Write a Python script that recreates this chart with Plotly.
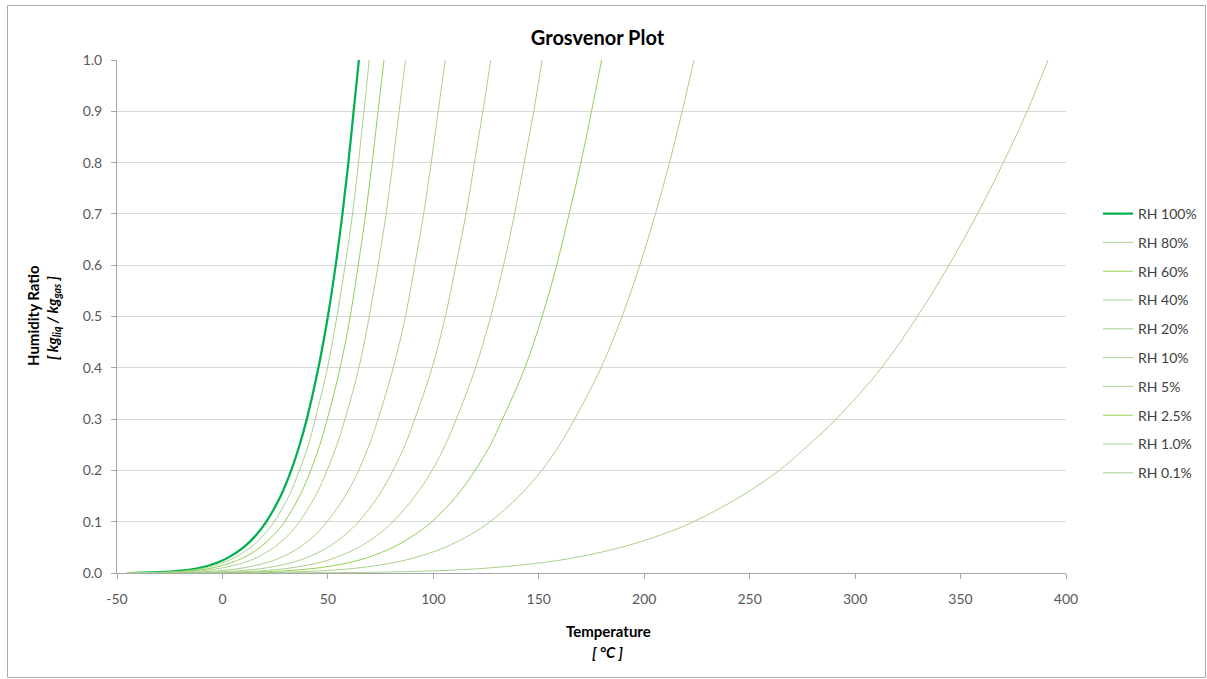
import plotly.graph_objects as go

# Humidity-ratio levels (kg_liq / kg_gas) at which each curve's temperature was read
humidity_levels = [0, 0.001, 0.002, 0.005, 0.01, 0.02, 0.03, 0.05, 0.075, 0.1, 0.15,
                   0.2, 0.25, 0.3, 0.4, 0.5, 0.6, 0.7, 0.8, 0.9, 1.0]

# Temperatures (°C) of each relative-humidity curve at those levels
t_rh100 = [-45, -34.1, -27.5, -18.1, -10.6, -2.6, 2.7, 10.0, 16.2, 20.8, 27.6,
           32.6, 36.6, 40.0, 45.5, 50.0, 53.7, 56.9, 59.7, 62.2, 64.7]
t_rh80 = [-45, -32.0, -25.3, -15.7, -8.1, 0.0, 5.8, 13.4, 19.8, 24.5, 31.5,
          36.5, 40.8, 44.0, 49.8, 54.3, 58.2, 61.7, 64.5, 67.1, 69.6]
t_rh60 = [-45, -29.3, -22.3, -12.6, -4.8, 4.1, 10.0, 17.9, 24.5, 29.5, 36.6,
          41.9, 46.2, 49.7, 55.8, 60.6, 64.4, 67.9, 71.0, 73.8, 76.6]
t_rh40 = [-45, -25.3, -18.1, -8.1, 0.0, 10.0, 16.2, 24.5, 31.5, 36.5, 44.1,
          49.6, 54.3, 58.1, 64.7, 69.6, 73.8, 77.6, 80.8, 83.8, 86.8]
t_rh20 = [-45, -18.1, -10.6, 0.0, 10.0, 20.8, 27.6, 36.6, 44.2, 49.6, 58.2,
          64.6, 69.6, 73.8, 81.0, 86.8, 91.2, 95.4, 99.0, 102.3, 105.7]
t_rh10 = [-45, -10.6, -2.6, 10.0, 20.8, 32.6, 40.0, 49.9, 58.3, 64.6, 73.9,
          80.9, 86.6, 91.2, 99.4, 105.7, 110.7, 115.5, 119.5, 123.5, 127.2]
t_rh5 = [-45, -2.6, 6.8, 20.8, 32.6, 45.5, 53.6, 64.6, 73.9, 80.9, 91.3,
         99.4, 105.7, 110.9, 120.0, 127.2, 133.3, 138.5, 143.1, 147.6, 151.6]
t_rh2_5 = [-45, 6.8, 17.3, 32.6, 45.5, 59.8, 68.7, 80.9, 91.3, 99.3, 111.0,
           119.8, 127.1, 132.8, 143.4, 151.6, 158.5, 164.4, 170.0, 175.0, 179.8]
t_rh1 = [-45, 20.8, 32.6, 49.9, 64.6, 80.9, 91.3, 105.5, 117.7, 126.9, 140.7,
         151.4, 159.9, 167.0, 179.5, 189.5, 197.9, 205.3, 212.0, 218.0, 223.6]
t_rh0_1 = [-45, 64.6, 80.9, 105.5, 126.9, 151.2, 167.1, 189.1, 208.4, 223.5, 246.0,
           264.0, 278.0, 291.0, 312.5, 329.5, 344.5, 358.0, 370.3, 381.6, 391.5]

series_names = ["RH 100%", "RH 80%", "RH 60%", "RH 40%", "RH 20%", "RH 10%",
                "RH 5%", "RH 2.5%", "RH 1.0%", "RH 0.1%"]
series_temps = [t_rh100, t_rh80, t_rh60, t_rh40, t_rh20, t_rh10,
                t_rh5, t_rh2_5, t_rh1, t_rh0_1]

x_ticks = [-50, 0, 50, 100, 150, 200, 250, 300, 350, 400]
y_ticks = [0.0, 0.1, 0.2, 0.3, 0.4, 0.5, 0.6, 0.7, 0.8, 0.9, 1.0]

DARK = "#00B050"
PALE = "#A9D18E"
BRIGHT = "#92D050"
colors = [DARK, PALE, BRIGHT, PALE, PALE, PALE, PALE, BRIGHT, PALE, PALE]
widths = [2.25, 1, 1, 1, 1, 1, 1, 1, 1, 1]

FONT = "Lato, 'Open Sans', sans-serif"

fig = go.Figure()
for i, (name, temps) in enumerate(zip(series_names, series_temps)):
    fig.add_trace(go.Scatter(
        x=temps, y=humidity_levels, mode="lines", name=name,
        legendgroup=name,
        line=dict(color=colors[i], width=widths[i], shape="spline", smoothing=1.0),
        hoverinfo="skip",
    ))

W, H = 1207, 679
L, R, T, B = 117, 141, 60, 106
pw, ph = W - L - R, H - T - B


def px_to_paper_x(px):
    return (px - L) / pw


def px_to_paper_y(py):
    return (H - B - py) / ph


fig.update_layout(
    width=W, height=H,
    margin=dict(l=L, r=R, t=T, b=B, autoexpand=False),
    paper_bgcolor="white", plot_bgcolor="white",
    font=dict(family=FONT, size=14, color="#595959"),
    title=dict(text="<b>Grosvenor Plot</b>", x=597.5 / W, xref="container", xanchor="center",
               y=1 - 38 / H, yref="container", yanchor="middle",
               font=dict(family=FONT, size=20, color="#000000")),
    showlegend=True,
    legend=dict(x=px_to_paper_x(1098), xanchor="left", y=px_to_paper_y(198), yanchor="top",
                font=dict(family=FONT, size=14, color="#404040"),
                tracegroupgap=7.6, bgcolor="rgba(0,0,0,0)", itemwidth=30),
    xaxis=dict(range=[-50, 400], tickvals=x_ticks, ticktext=[str(v) for v in x_ticks],
               showgrid=False, zeroline=False, showline=True, linecolor="#A6A6A6",
               linewidth=1, ticks="outside", ticklen=5, tickcolor="#A6A6A6",
               ticklabelstandoff=8,
               tickfont=dict(family=FONT, size=14, color="#595959")),
    yaxis=dict(range=[0, 1], tickvals=y_ticks, ticktext=[f"{v:.1f}" for v in y_ticks],
               showgrid=True, gridcolor="#D9D9D9", gridwidth=1, zeroline=False,
               showline=True, linecolor="#A6A6A6", linewidth=1, ticks="outside",
               ticklen=5, tickcolor="#A6A6A6", ticklabelstandoff=6,
               tickfont=dict(family=FONT, size=14, color="#595959")),
)

annotations = [
    dict(text="<b>Humidity Ratio</b>", x=px_to_paper_x(33), y=px_to_paper_y(316),
         textangle=-90, font=dict(family=FONT, size=15, color="#000000")),
    dict(text="<b><i>[ kg<sub>liq</sub> / kg<sub>gas</sub> ]</i></b>", x=px_to_paper_x(53),
         y=px_to_paper_y(318), textangle=-90, font=dict(family=FONT, size=15, color="#000000")),
    dict(text="<b>Temperature</b>", x=px_to_paper_x(608), y=px_to_paper_y(631),
         font=dict(family=FONT, size=15, color="#000000")),
    dict(text="<b><i>[ °C ]</i></b>", x=px_to_paper_x(608), y=px_to_paper_y(652),
         font=dict(family=FONT, size=15, color="#000000")),
]
for a in annotations:
    a.update(xref="paper", yref="paper", showarrow=False, xanchor="center", yanchor="middle")
fig.update_layout(annotations=annotations)

# Outer chart border
fig.add_shape(type="rect", xref="paper", yref="paper",
              x0=px_to_paper_x(7.5), x1=px_to_paper_x(1205.5),
              y0=px_to_paper_y(677.5), y1=px_to_paper_y(5.5),
              line=dict(color="#ABABAB", width=1), fillcolor="rgba(0,0,0,0)", layer="below")

fig.write_html("out.html")
